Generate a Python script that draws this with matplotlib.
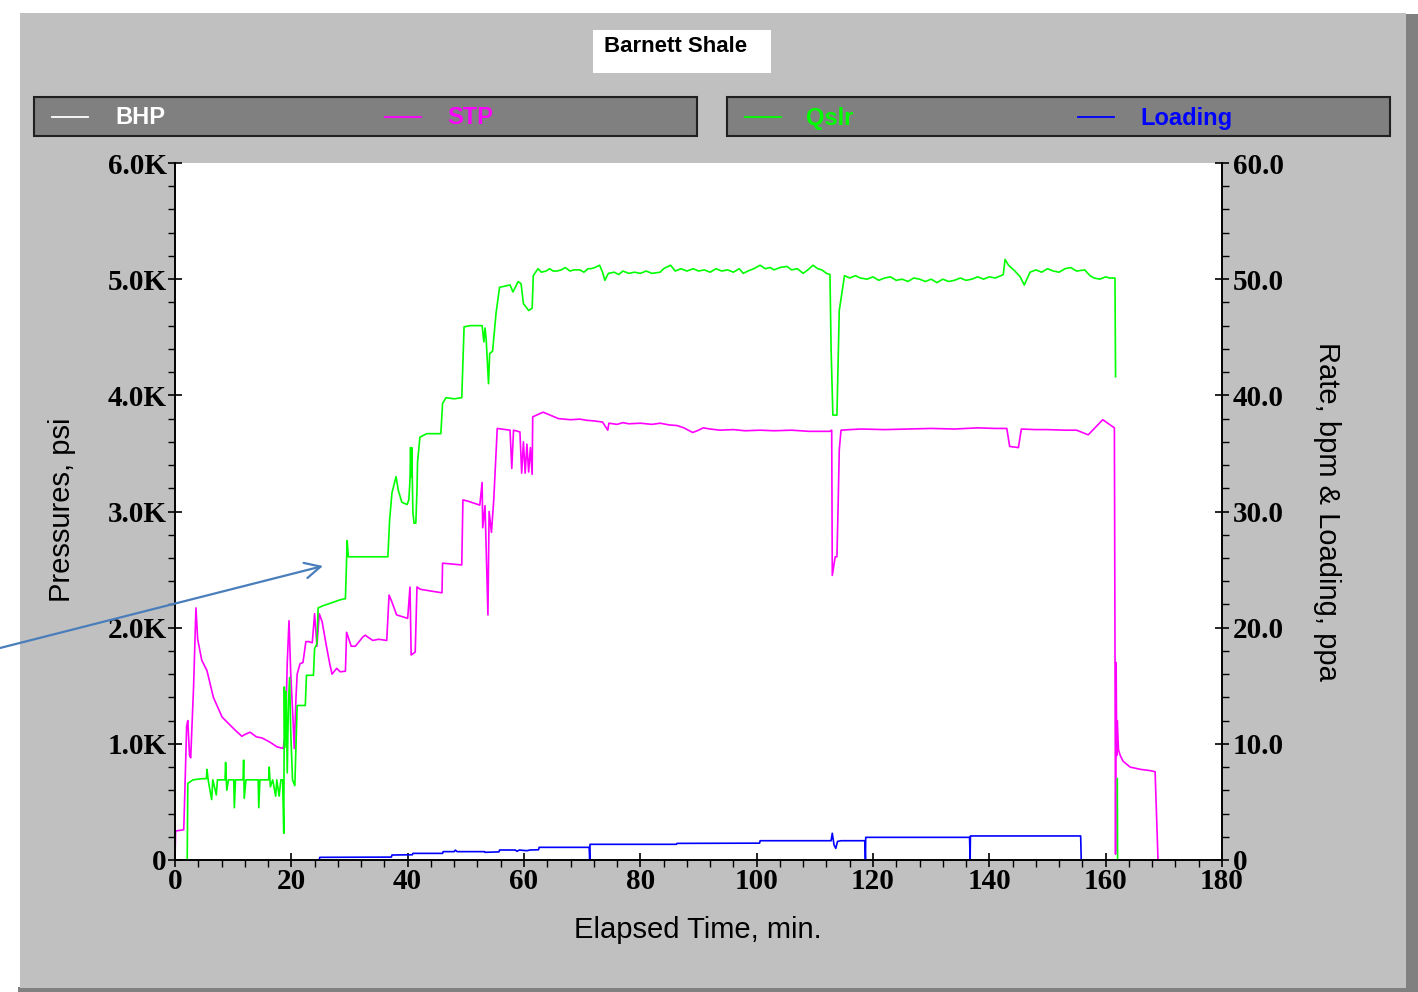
import matplotlib
matplotlib.use('Agg')
import matplotlib.pyplot as plt
import numpy as np
from matplotlib.patches import Rectangle
from matplotlib.lines import Line2D
from matplotlib.ticker import MultipleLocator, FuncFormatter

# STP (surface treating pressure), psi
stp_t = [0, 0.1, 1.5, 1.7, 2.0, 2.2, 2.5, 2.7, 3.2, 3.6, 3.9, 4.6, 5.5, 6.6, 8.1, 9.5,
         10.3, 11.5, 12.0, 12.9, 14.0, 15.0, 16.3, 17.5, 18.6, 19.0, 19.3, 19.6, 19.9,
         20.3, 20.5, 20.8, 21.0, 21.5, 22.0, 22.5, 23.0, 23.6, 24.0, 24.4, 24.8, 25.3,
         26.0, 26.6, 27.0, 27.8, 28.4, 29.3, 29.5, 30.3, 31.0, 32.3, 32.7, 34.0, 35.0,
         36.4, 36.8, 37.3, 38.1, 40.0, 40.4, 40.6, 41.3, 41.6, 42.2, 45.9, 46.0, 49.3,
         49.5, 50.3, 52.4, 52.8, 52.9, 53.3, 53.8, 54.0, 54.4, 54.8, 55.2, 55.4, 57.6,
         57.9, 58.2, 59.3, 59.6, 59.9, 60.2, 60.5, 60.8, 61.1, 61.4, 61.5, 63.3, 64.5,
         65.9, 67.0, 68.0, 69.6, 70.8, 72.0, 73.5, 74.4, 74.6, 76.0, 77.0, 78.0, 80.0,
         82.0, 83.4, 85.0, 86.3, 87.5, 89.0, 90.0, 90.8, 92.0, 93.7, 96.0, 98.0, 100.6,
         103.0, 106.0, 109.0, 112.6, 112.9, 113.0, 113.5, 113.8, 114.0, 114.2, 114.5,
         116.0, 118.0, 122.0, 126.0, 130.0, 134.0, 138.0, 141.0, 143.0, 143.5, 145.0,
         145.5, 148.0, 150.0, 153.0, 155.0, 157.0, 159.5, 161.5, 161.7, 161.8, 161.9,
         162.0, 162.2, 162.5, 163.0, 164.2, 166.0, 167.6, 168.5, 168.8, 169.0]
stp_psi = [0, 250, 260, 600, 1150, 1200, 900, 880, 1500, 2170, 1900, 1720, 1630, 1400,
           1230, 1160, 1120, 1065, 1080, 1100, 1060, 1050, 1015, 975, 960, 1100, 1700,
           2060, 1600, 1200, 960, 1400, 1600, 1690, 1700, 1880, 1880, 1870, 2120, 1840,
           2120, 2050, 1850, 1690, 1600, 1650, 1620, 1625, 1960, 1840, 1840, 1920, 1935,
           1890, 1900, 1890, 2280, 2220, 2110, 2080, 2350, 1765, 1790, 2350, 2330, 2300,
           2555, 2540, 3100, 3090, 3055, 3250, 2860, 3050, 2110, 3000, 2820, 3100, 3510,
           3715, 3700, 3370, 3700, 3685, 3330, 3600, 3330, 3580, 3340, 3550, 3320, 3815,
           3855, 3830, 3800, 3795, 3790, 3795, 3785, 3780, 3770, 3700, 3760, 3750, 3765,
           3755, 3760, 3750, 3760, 3745, 3740, 3720, 3680, 3700, 3720, 3710, 3700, 3705,
           3695, 3700, 3695, 3700, 3690, 3690, 3700, 2450, 2610, 2610, 3040, 3530, 3700,
           3705, 3710, 3705, 3710, 3715, 3710, 3720, 3715, 3715, 3560, 3550, 3710, 3705,
           3705, 3700, 3700, 3660, 3790, 3720, 50, 1700, 900, 1200, 950, 900, 850, 800,
           780, 770, 760, 300, 0]

# Qslr (slurry rate), bpm
qslr_t = [2.1, 2.2, 3.1, 4.6, 5.4, 5.5, 5.7, 6.3, 6.5, 7.1, 7.3, 8.6, 8.7, 8.9, 9.2, 10.1,
          10.2, 10.4, 11.7, 11.8, 11.9, 12.2, 14.3, 14.4, 14.6, 16.1, 16.2, 16.4, 16.8,
          17.3, 17.5, 17.9, 18.2, 18.5, 18.7, 18.8, 18.9, 19.1, 19.3, 19.5, 19.7, 19.9,
          20.2, 20.6, 21.0, 22.4, 22.6, 23.8, 24.0, 24.4, 24.6, 25.5, 26.7, 28.4, 29.3,
          29.6, 29.8, 36.6, 36.9, 37.3, 38.0, 38.4, 39.0, 39.9, 40.2, 40.4, 40.5, 40.6,
          40.7, 40.9, 41.1, 41.4, 41.6, 41.7, 41.9, 42.1, 43.3, 45.7, 46.0, 46.6, 48.0,
          49.3, 49.7, 50.8, 52.8, 53.1, 53.3, 53.5, 53.9, 54.1, 54.6, 55.2, 55.8, 57.6,
          58.1, 59.0, 59.5, 59.9, 60.8, 61.4, 61.6, 62.4, 63.0, 63.8, 64.4, 65.0, 65.7,
          66.4, 67.1, 67.9, 68.6, 69.6, 70.3, 71.0, 71.5, 72.2, 73.0, 73.5, 73.9, 74.5,
          75.5, 76.3, 77.0, 78.0, 79.0, 80.0, 81.0, 82.0, 83.4, 84.0, 85.2, 86.0, 87.0,
          88.0, 89.1, 90.0, 91.0, 92.0, 93.0, 94.0, 95.0, 96.0, 97.0, 97.7, 98.5, 99.5,
          100.6, 101.5, 102.3, 103.0, 104.0, 105.2, 106.0, 107.0, 108.0, 108.8, 109.7,
          110.5, 111.2, 112.0, 112.6, 112.8, 113.1, 113.8, 114.2, 115.1, 116.0, 117.0,
          117.8, 119.0, 120.0, 121.0, 122.0, 123.0, 124.0, 125.0, 126.0, 127.0, 128.0,
          129.0, 130.0, 131.0, 132.0, 133.0, 134.0, 135.0, 136.0, 137.0, 138.0, 139.0,
          140.0, 141.0, 142.0, 142.4, 142.7, 143.3, 144.4, 145.3, 146.0, 147.0, 148.0,
          149.0, 150.0, 151.0, 152.0, 153.0, 154.0, 155.0, 156.4, 157.3, 158.0, 159.0,
          160.0, 160.7, 161.6, 161.7, np.nan, 162.0, 162.05]
qslr_bpm = [0, 6.6, 6.9, 7.0, 7.0, 7.8, 6.9, 5.2, 6.9, 5.6, 6.9, 6.9, 8.4, 6.0, 6.9, 6.9,
            4.5, 6.9, 6.9, 8.6, 5.3, 6.9, 6.9, 4.5, 6.9, 6.9, 8.0, 6.3, 6.9, 5.5, 6.9,
            5.5, 6.9, 6.9, 2.3, 14.9, 9.7, 14.5, 7.5, 13.5, 15.7, 11.0, 6.9, 6.4, 13.3,
            13.3, 15.9, 15.9, 18.2, 18.6, 21.7, 21.9, 22.1, 22.4, 22.5, 27.5, 26.1, 26.1,
            29.3, 31.6, 33.0, 31.8, 30.8, 30.6, 31.0, 32.7, 35.5, 33.0, 35.5, 29.9, 29.0,
            29.0, 31.8, 34.3, 35.3, 36.4, 36.7, 36.7, 39.3, 39.8, 39.7, 39.8, 45.9, 46.0,
            46.0, 44.6, 45.8, 44.8, 41.0, 43.6, 43.8, 47.1, 49.3, 49.5, 48.9, 49.8, 49.6,
            47.9, 47.3, 47.5, 50.3, 50.9, 50.6, 50.7, 50.9, 50.7, 50.7, 50.8, 51.0, 50.7,
            50.8, 50.8, 50.6, 50.9, 50.9, 51.0, 51.2, 50.6, 49.9, 50.5, 50.6, 50.4, 50.7,
            50.5, 50.6, 50.5, 50.7, 50.5, 50.6, 50.9, 51.2, 50.7, 50.9, 50.7, 50.9, 50.7,
            50.8, 50.6, 50.9, 50.7, 50.8, 50.6, 50.9, 50.5, 50.7, 50.9, 51.2, 50.9, 51.0,
            50.8, 51.0, 51.1, 50.8, 50.9, 50.5, 50.8, 51.2, 50.9, 50.8, 50.5, 50.4, 43.9,
            38.3, 38.3, 47.3, 50.3, 50.1, 50.3, 50.1, 50.0, 50.2, 49.9, 50.1, 50.2, 49.9,
            50.0, 49.8, 50.1, 50.0, 49.8, 50.0, 49.7, 50.0, 49.8, 49.9, 50.1, 49.9, 50.0,
            50.2, 50.0, 50.2, 50.1, 50.3, 50.4, 51.7, 51.2, 50.7, 50.2, 49.5, 50.6, 50.8,
            50.6, 50.9, 50.7, 50.6, 50.9, 51.0, 50.7, 50.8, 50.3, 50.1, 50.0, 50.2, 50.1,
            50.1, 41.6, np.nan, 7.0, 0]

# Loading, ppa
load_t = [24.8, 24.9, 37.2, 37.3, 40.8, 40.9, 46.0, 46.1, 48.0, 48.2, 48.5, 53.2, 53.3,
          55.7, 55.8, 58.5, 58.8, 59.2, 60.5, 61.0, 62.5, 62.6, 71.2, 71.3, 71.35, 86.2,
          86.3, 100.5, 100.6, 112.8, 113.0, 113.3, 113.6, 113.9, 114.5, 118.6, 118.7,
          118.75, 136.6, 136.7, 136.75, 155.7, 155.8]
load_ppa = [0, 0.23, 0.25, 0.43, 0.45, 0.57, 0.57, 0.72, 0.72, 0.85, 0.72, 0.72, 0.66,
            0.70, 0.86, 0.86, 0.75, 0.86, 0.80, 0.86, 0.88, 1.09, 1.09, 0, 1.35, 1.35,
            1.43, 1.45, 1.66, 1.66, 2.3, 1.3, 1.0, 1.6, 1.66, 1.66, 0, 1.95, 1.95, 0,
            2.07, 2.07, 0]

legend_names = ['BHP', 'STP', 'Qslr', 'Loading']
legend_colors = ['white', '#FF00FF', '#00FF00', '#0000FF']

W, H = 1418, 992
fig = plt.figure(figsize=(W / 100, H / 100), dpi=100, facecolor='white')


def rect(x0, y0, x1, y1, **kw):
    # pixel box with origin at top left -> figure fraction patch, kept behind the axes
    r = Rectangle((x0 / W, 1 - y1 / H), (x1 - x0) / W, (y1 - y0) / H,
                  transform=fig.transFigure, zorder=-10, **kw)
    fig.add_artist(r)


def fx(x):
    return x / W


def fy(y):
    return 1 - y / H


# grey panel with darker shadow edges
rect(1404, 14, 1418, 992, facecolor='#808080', edgecolor='none')
rect(18, 987, 1418, 992, facecolor='#808080', edgecolor='none')
rect(20, 13, 1406, 988, facecolor='#C0C0C0', edgecolor='none')

# title box
rect(593, 30, 771, 73, facecolor='white', edgecolor='none')
fig.text(fx(604), fy(46), 'Barnett Shale', fontsize=16, fontweight='bold',
         family='Liberation Sans', va='center', ha='left', color='black')

# legend boxes
rect(34, 97, 697, 136, facecolor='#808080', edgecolor='#202020', lw=1.5)
rect(727, 97, 1390, 136, facecolor='#808080', edgecolor='#202020', lw=1.5)
line_x = [52, 385, 745, 1078]
text_x = [115, 447, 806, 1140]
for name, col, lx, tx in zip(legend_names, legend_colors, line_x, text_x):
    fig.add_artist(Line2D([fx(lx), fx(lx + 36)], [fy(117), fy(117)], color=col, lw=1.3,
                          transform=fig.transFigure))
    fig.text(fx(tx), fy(118), name, fontsize=17, fontweight='bold', family='Liberation Sans',
             color=col, va='center', ha='left')

ax = fig.add_axes([175 / W, 1 - 860 / H, (1222 - 175) / W, (860 - 163) / H])
ax.set_facecolor('white')
ax2 = ax.twinx()

ax.plot(stp_t, stp_psi, color='#FF00FF', lw=1.2)
ax2.plot(qslr_t, qslr_bpm, color='#00FF00', lw=1.2)
ax2.plot(load_t, load_ppa, color='#0000FF', lw=1.2)

ax.set_xlim(0, 180)
ax.set_ylim(0, 6000)
ax2.set_ylim(0, 60)

tick_font = {'family': 'Liberation Serif', 'weight': 'bold', 'size': 21}
ax.xaxis.set_major_locator(MultipleLocator(20))
ax.xaxis.set_minor_locator(MultipleLocator(4))
ax.yaxis.set_major_locator(MultipleLocator(1000))
ax.yaxis.set_minor_locator(MultipleLocator(200))
ax2.yaxis.set_major_locator(MultipleLocator(10))
ax2.yaxis.set_minor_locator(MultipleLocator(2))
ax.yaxis.set_major_formatter(FuncFormatter(lambda v, p: '0' if v == 0 else f'{v / 1000:.1f}K'))
ax2.yaxis.set_major_formatter(FuncFormatter(lambda v, p: '0' if v == 0 else f'{v:.1f}'))

ax.tick_params(which='major', direction='inout', length=10, width=1.2, pad=1)
ax.tick_params(which='minor', direction='out', length=5, width=1.0)
ax2.tick_params(which='major', direction='inout', length=10, width=1.2, pad=3)
ax2.tick_params(which='minor', direction='out', length=5, width=1.0)
for lab in ax.get_xticklabels() + ax.get_yticklabels() + ax2.get_yticklabels():
    lab.set_fontproperties(tick_font)
    lab.set_fontsize(21)

for a in (ax, ax2):
    a.spines['top'].set_visible(False)
    for s in ('left', 'right', 'bottom'):
        a.spines[s].set_linewidth(1.2)
        a.spines[s].set_color('black')

label_font = {'family': 'Liberation Sans', 'size': 21}
ax.set_xlabel('Elapsed Time, min.', fontdict=label_font)
ax.set_ylabel('Pressures, psi', fontdict=label_font)
ax2.set_ylabel('Rate, bpm & Loading, ppa', fontdict=label_font, rotation=270)
ax.xaxis.set_label_coords(0.4995, -0.100)
ax.yaxis.set_label_coords(-0.108, 0.502)
ax2.yaxis.set_label_coords(1.100, 0.50)
ax2.yaxis.label.set_va('center')
ax.xaxis.label.set_va('center')
ax.yaxis.label.set_va('center')

# pointer arrow drawn over the chart
ax2.annotate('', xy=(323, H - 566), xytext=(0, H - 648), xycoords='figure pixels',
             textcoords='figure pixels', annotation_clip=False, zorder=10,
             arrowprops=dict(arrowstyle='->', color='#4A7EBB', lw=1.6, mutation_scale=28,
                             shrinkA=0, shrinkB=0))

fig.savefig('out.png', dpi=100, facecolor='white')
